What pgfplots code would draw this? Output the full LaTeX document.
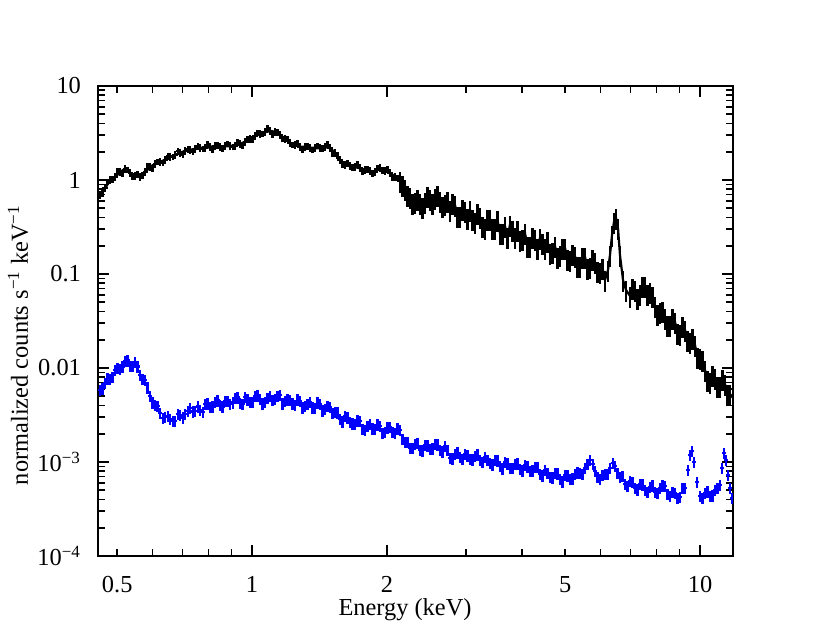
\documentclass[border=0pt]{standalone}
\usepackage{fontspec}
\setmainfont{Liberation Serif}
\usepackage{pgfplots}
\pgfplotsset{compat=1.18}
\pgfplotsset{
  bluedata/.style={draw=none, mark=none,
    error bars/.cd, x dir=both, x fixed relative=0.01, y dir=both, y fixed relative=0.14,
    error mark=none, error bar style={draw=blue, line width=1.1pt}},
  blackextra/.style={draw=none, mark=none,
    error bars/.cd, x dir=both, x fixed relative=0.007, y dir=both, y fixed relative=0.08,
    error mark=none, error bar style={draw=black, line width=1.1pt}},
}
\begin{document}
\begin{tikzpicture}[font=\fontsize{12.2}{14}\selectfont]
\begin{axis}[
  at={(49pt,43pt)}, anchor=south west,
  scale only axis, width=317.5pt, height=235pt,
  xmode=log, ymode=log,
  xmin=0.453, xmax=11.849, ymin=1e-4, ymax=10,
  axis line style={line width=0.9pt},
  tick style={line width=0.8pt, black},
  major tick length=5.5pt, minor tick length=3.5pt,
  xtick={1,2,10}, xticklabels={1,2,10},
  extra x ticks={0.5,5}, extra x tick labels={0.5,5},
  extra x tick style={major tick length=3.5pt},
  minor xtick={0.6,0.7,0.8,0.9,3,4,6,7,8,9},
  ytick={1e-4,1e-3,1e-2,1e-1,1,10},
  yticklabels={10\textsuperscript{−4},10\textsuperscript{−3},0.01,0.1,1,10},
  minor ytick={2e-4,3e-4,4e-4,5e-4,6e-4,7e-4,8e-4,9e-4,
    2e-3,3e-3,4e-3,5e-3,6e-3,7e-3,8e-3,9e-3,
    0.02,0.03,0.04,0.05,0.06,0.07,0.08,0.09,
    0.2,0.3,0.4,0.5,0.6,0.7,0.8,0.9,
    2,3,4,5,6,7,8,9},
  xticklabel style={inner sep=0pt, yshift=-10pt},
  yticklabel style={xshift=-5pt},
  xlabel={Energy (keV)},
  ylabel={normalized counts s\textsuperscript{−1} keV\textsuperscript{−1}},
  xlabel style={at={(axis description cs:0.4835,-0.127)}, anchor=base, inner sep=0pt},
  ylabel style={at={(axis description cs:-0.126,0.449)}, anchor=center, inner sep=0pt},
]
% black spectrum, low energies
\addplot[black, line width=1.3pt, mark=none,
  error bars/.cd, x dir=both, x fixed relative=0.013, y dir=both, y fixed relative=0.09,
  error mark=none, error bar style={line width=1.2pt, black}]
coordinates {
(0.4577,0.693) (0.4697,0.822) (0.4819,1.000) (0.4945,1.076) (0.5074,1.217) (0.5206,1.309) (0.5342,1.187) (0.5481,1.103) (0.5623,1.076) (0.5770,1.217) (0.5920,1.375) (0.6075,1.480) (0.6233,1.554) (0.6396,1.632) (0.6562,1.757) (0.6733,1.845) (0.6909,1.938) (0.7089,2.035) (0.7274,2.086) (0.7463,2.137) (0.7658,2.190) (0.7858,2.190) (0.8058,2.245) (0.8270,2.300) (0.8484,2.245) (0.8706,2.300) (0.8932,2.300) (0.9165,2.300) (0.9402,2.416) (0.9647,2.537) (0.9897,2.731) (1.0155,2.939) (1.0420,3.087) (1.0691,3.242) (1.0970,3.322) (1.1255,3.242) (1.1548,3.012) (1.1849,2.731) (1.2157,2.476) (1.2474,2.357) (1.2798,2.245) (1.3132,2.245) (1.3474,2.190) (1.3824,2.190) (1.4184,2.190) (1.4553,2.245) (1.4932,2.190) (1.5321,1.938) (1.5720,1.632) (1.6130,1.444) (1.6550,1.409) (1.6980,1.375) (1.7422,1.342) (1.7875,1.278) (1.8341,1.247) (1.8819,1.217) (1.9309,1.342) (1.9812,1.247) (2.0325,1.187) (2.0855,1.076) (2.1398,0.976)
};
% black spectrum, low energies, intermediate bins
\addplot[blackextra]
coordinates {
(0.4637,0.719) (0.4758,0.953) (0.4882,1.012) (0.5010,1.232) (0.5140,1.172) (0.5274,1.278) (0.5412,1.089) (0.5552,1.144) (0.5697,1.116) (0.5845,1.392) (0.5998,1.326) (0.6154,1.554) (0.6315,1.517) (0.6479,1.779) (0.6648,1.757) (0.6821,2.035) (0.6999,1.845) (0.7182,2.111) (0.7369,2.010) (0.7561,2.272) (0.7758,2.137) (0.7958,2.386) (0.8164,2.111) (0.8377,2.329) (0.8595,2.163) (0.8819,2.416) (0.9049,2.245) (0.9284,2.537) (0.9525,2.300) (0.9772,2.697) (1.0026,2.697) (1.0288,3.163) (1.0556,3.087) (1.0831,3.531) (1.1113,3.049) (1.1402,3.202) (1.1699,2.731) (1.2003,2.731) (1.2316,2.357) (1.2636,2.476) (1.2965,2.086) (1.3303,2.272) (1.3649,2.086) (1.4004,2.300) (1.4369,2.163) (1.4743,2.386) (1.5127,1.914) (1.5521,1.822) (1.5925,1.462) (1.6340,1.498) (1.6765,1.358) (1.7201,1.462) (1.7649,1.217) (1.8108,1.293) (1.8580,1.172) (1.9064,1.342) (1.9561,1.262) (2.0069,1.309) (2.0590,1.050) (2.1127,1.050)
};
% black spectrum, high energies
\addplot[black, line width=1.1pt, mark=none,
  error bars/.cd, x dir=both, x fixed relative=0.007, y dir=both, y fixed relative=0.25,
  error mark=none, error bar style={line width=1.2pt, black}]
coordinates {
(2.1398,0.976) (2.1676,0.885) (2.1953,0.803) (2.2239,0.693) (2.2525,0.660) (2.2818,0.569) (2.3110,0.584) (2.3412,0.628) (2.3714,0.569) (2.4023,0.516) (2.4332,0.584) (2.4648,0.676) (2.4963,0.628) (2.5289,0.569) (2.5614,0.644) (2.5947,0.693) (2.6279,0.598) (2.6622,0.529) (2.6965,0.556) (2.7317,0.598)
(2.7669,0.480) (2.8027,0.569) (2.8385,0.542) (2.8756,0.414) (2.9126,0.414) (2.9505,0.492) (2.9883,0.468) (3.0273,0.390) (3.0662,0.480) (3.1061,0.385) (3.1460,0.358) (3.1867,0.446) (3.2274,0.404) (3.2696,0.324) (3.3117,0.309) (3.3550,0.385) (3.3982,0.385) (3.4422,0.309) (3.4862,0.309) (3.5316,0.375) (3.5770,0.273) (3.6234,0.273) (3.6697,0.324) (3.7176,0.248) (3.7655,0.332) (3.8146,0.294) (3.8637,0.248) (3.9138,0.294) (3.9638,0.230) (4.0155,0.236) (4.0672,0.273) (4.1200,0.199) (4.1727,0.199) (4.2271,0.248) (4.2815,0.236) (4.3374,0.189) (4.3932,0.242) (4.4507,0.214) (4.5082,0.189) (4.5669,0.224) (4.6255,0.167) (4.6854,0.171) (4.7452,0.199) (4.8075,0.152) (4.8697,0.159) (4.9332,0.189) (4.9967,0.189) (5.0615,0.144) (5.1262,0.141) (5.1932,0.163) (5.2602,0.155) (5.3283,0.122) (5.3964,0.122) (5.4669,0.152) (5.5373,0.152) (5.6096,0.116) (5.6818,0.119) (5.7554,0.144) (5.8290,0.134) (5.9052,0.108) (5.9813,0.105) (6.0588,0.116) (6.1363,0.0864) (6.232,0.110) (6.2965,0.159) (6.362,0.260) (6.427,0.358) (6.494,0.394) (6.561,0.309) (6.628,0.159) (6.732,0.0864) (6.837,0.0676) (6.9791,0.0584) (7.0695,0.0710) (7.1598,0.0676) (7.2533,0.0556) (7.3468,0.0613) (7.4420,0.0746) (7.5371,0.0746) (7.6356,0.0613) (7.7340,0.0644) (7.8350,0.0584) (7.9360,0.0457) (8.0388,0.0375) (8.1415,0.0394) (8.2478,0.0404) (8.3541,0.0340) (8.4623,0.0287) (8.5704,0.0287) (8.6824,0.0340) (8.7943,0.0309) (8.9092,0.0236) (9.0240,0.0230) (9.1409,0.0280) (9.2577,0.0254) (9.3786,0.0199) (9.4995,0.0189) (9.6225,0.0209) (9.7455,0.0176) (9.8728,0.0131) (10.000,0.0128) (10.131,0.0122) (10.261,0.00953) (10.394,0.00746) (10.527,0.00710) (10.665,0.00843) (10.802,0.00783) (10.942,0.00644) (11.082,0.00644) (11.227,0.00764) (11.371,0.00676) (11.519,0.00529) (11.667,0.00529) (11.849,0.00480)
};
% blue spectrum
\addplot[bluedata]
coordinates {
(0.4577,0.00584) (0.4697,0.00693) (0.4819,0.00764) (0.4945,0.00953) (0.5074,0.00976) (0.5206,0.0119) (0.5342,0.0105) (0.5481,0.0116) (0.5623,0.00843) (0.5770,0.00746) (0.5920,0.00504) (0.6075,0.00404) (0.6233,0.00332) (0.6396,0.00301) (0.6562,0.00287) (0.6733,0.00273) (0.6909,0.00316) (0.7089,0.00324) (0.7274,0.00375) (0.7463,0.00349) (0.7658,0.00358) (0.7858,0.00414) (0.8058,0.00385) (0.8270,0.00435) (0.8484,0.00404) (0.8706,0.00446) (0.8932,0.00414) (0.9165,0.00480) (0.9402,0.00424) (0.9647,0.00492) (0.9897,0.00435) (1.0155,0.00504) (1.0420,0.00468) (1.0691,0.00435) (1.0970,0.00504) (1.1255,0.00468) (1.1548,0.00516) (1.1849,0.00446) (1.2157,0.00457) (1.2474,0.00404) (1.2798,0.00446) (1.3132,0.00394) (1.3474,0.00435) (1.3824,0.00375) (1.4184,0.00414) (1.4553,0.00366) (1.4932,0.00385) (1.5321,0.00340) (1.5720,0.00287) (1.6130,0.00309) (1.6550,0.00266) (1.6980,0.00254) (1.7422,0.00273) (1.7875,0.00219) (1.8341,0.00254) (1.8819,0.00224) (1.9309,0.00242) (1.9812,0.00209) (2.0325,0.00236) (2.0855,0.00204) (2.1398,0.00219) (2.1953,0.00163) (2.2525,0.00141) (2.3110,0.00155) (2.3714,0.00134) (2.4332,0.00152) (2.4963,0.00138) (2.5614,0.00155) (2.6279,0.00134) (2.6965,0.00148) (2.7669,0.00110) (2.8385,0.00122) (2.9126,0.00113) (2.9883,0.00122) (3.0662,0.00108) (3.1460,0.00116) (3.2274,0.00105) (3.3117,0.00113) (3.3982,0.000976) (3.4862,0.00105) (3.5770,0.000907) (3.6697,0.00100) (3.7655,0.000864) (3.8637,0.000953) (3.9638,0.000843) (4.0672,0.000930) (4.1727,0.000803) (4.2815,0.000885) (4.3932,0.000746) (4.5082,0.000822) (4.6255,0.000693) (4.7452,0.000764) (4.8697,0.000660) (4.9967,0.000728) (5.1262,0.000660) (5.2602,0.000746) (5.3964,0.000764) (5.5373,0.000864) (5.6818,0.00105) (5.770,0.000953) (5.8290,0.000803) (5.9813,0.000660) (6.1363,0.000746) (6.2965,0.000864) (6.395,0.000976) (6.4610,0.000907) (6.6283,0.000693) (6.8014,0.000584) (6.9791,0.000628) (7.1598,0.000529) (7.3468,0.000584) (7.5371,0.000504) (7.7340,0.000542) (7.9360,0.000480) (8.1415,0.000529) (8.3541,0.000556) (8.5704,0.000435) (8.7943,0.000468) (9.0240,0.000424) (9.2577,0.000529) (9.402,0.000822) (9.4995,0.00119) (9.597,0.00131) (9.696,0.00100) (9.847,0.000613) (10.000,0.000435) (10.261,0.000468) (10.527,0.000435) (10.802,0.000504) (11.082,0.000569) (11.197,0.000864) (11.313,0.00125) (11.429,0.00105) (11.547,0.000728) (11.667,0.000529) (11.788,0.000414)
};
% blue spectrum, intermediate bins
\addplot[bluedata]
coordinates {
(0.4637,0.00605) (0.4758,0.00774) (0.4882,0.00803) (0.5010,0.0100) (0.5140,0.0104) (0.5274,0.0120) (0.5412,0.0105) (0.5552,0.0104) (0.5697,0.00759) (0.5845,0.00622)
(0.5998,0.00430) (0.6154,0.00394) (0.6315,0.00294) (0.6479,0.00309) (0.6648,0.00273) (0.6821,0.00324) (0.6999,0.00297) (0.7182,0.00349) (0.7369,0.00345) (0.7561,0.00390) (0.7758,0.00340) (0.7958,0.00419) (0.8164,0.00390) (0.8377,0.00451) (0.8595,0.00390) (0.8819,0.00446) (0.9049,0.00430) (0.9284,0.00486) (0.9525,0.00414) (0.9772,0.00462) (1.0026,0.00435) (1.0288,0.00510) (1.0556,0.00419) (1.0831,0.00480) (1.1113,0.00457) (1.1402,0.00504) (1.1699,0.00419) (1.2003,0.00462) (1.2316,0.00419) (1.2636,0.00462) (1.2965,0.00380) (1.3303,0.00414) (1.3649,0.00380) (1.4004,0.00430) (1.4369,0.00353) (1.4743,0.00394) (1.5127,0.00332) (1.5521,0.00336) (1.5925,0.00270) (1.6340,0.00297) (1.6765,0.00257) (1.7201,0.00276) (1.7649,0.00224) (1.8108,0.00242) (1.8580,0.00227) (1.9064,0.00251) (1.9561,0.00204) (2.0069,0.00233) (2.0590,0.00209) (2.1127,0.00227)
(2.1676,0.00176) (2.2239,0.00163) (2.2818,0.00141) (2.3412,0.00159) (2.4023,0.00132) (2.4648,0.00150) (2.5289,0.00139) (2.5947,0.00153) (2.6622,0.00129) (2.7317,0.00134) (2.8027,0.00109) (2.8756,0.00126) (2.9505,0.00108) (3.0273,0.00117) (3.1061,0.00106) (3.1867,0.00120) (3.2696,0.00100) (3.3550,0.00105) (3.4422,0.000942) (3.5316,0.00104) (3.6234,0.000853) (3.7176,0.000964) (3.8146,0.000864) (3.9138,0.000964) (4.0155,0.000814) (4.1200,0.000896) (4.2271,0.000814) (4.3374,0.000885) (4.4507,0.000719) (4.5669,0.000764) (4.6854,0.000684) (4.8075,0.000755) (4.9332,0.000621) (5.0615,0.000719) (5.1932,0.000668) (5.3283,0.000773)
(5.4669,0.000746) (5.6096,0.000953) (5.9052,0.000693) (6.0588,0.000728) (6.2164,0.000746) (6.5447,0.000764) (6.7149,0.000710) (6.8903,0.000556) (7.0695,0.000613) (7.2533,0.000510) (7.4420,0.000576) (7.6356,0.000480) (7.8350,0.000562) (8.0388,0.000468) (8.2478,0.000562) (8.4623,0.000457) (8.6824,0.000480) (8.9092,0.000414) (9.1409,0.000529) (10.131,0.000414) (10.394,0.000486) (10.665,0.000441) (10.942,0.000529)
};
\end{axis}
\pgfresetboundingbox
\path[use as bounding box] (0,0) rectangle (415pt,321pt);
\end{tikzpicture}
\end{document}
